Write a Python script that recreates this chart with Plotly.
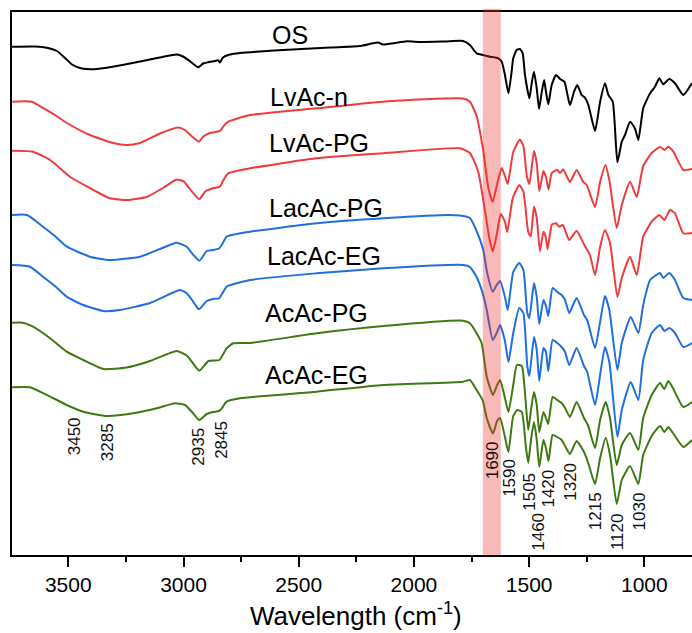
import plotly.graph_objects as go

# ---- data: wavenumber (cm-1) and offset transmittance (a.u.) ----
os_x = [3744,3645,3588,3549,3514,3484,3441,3397,3341,3254,3145,3059,3028,2998,2968,2936,2915,2894,2863,2850,
        2842,2829,2798,2755,2568,2364,2234,2156,2134,2030,1974,1865,1787,1757,1728,1699,1670,1634,1619,1605,
        1590,1576,1569,1554,1540,1528,1518,1499,1489,1479,1467,1457,1445,1435,1427,1417,1402,1383,1366,1347,
        1323,1305,1291,1272,1258,1243,1214,1192,1171,1156,1137,1117,1098,1084,1062,1041,1026,1005,975,954,
        935,918,892,867,831,793]
os_y = [508.3,508.5,507,504,497,490.5,486.5,485.7,487,490.5,495.5,499.5,500.5,498,493,487.7,491.5,492.7,494,494.7,
        492.5,497.5,500.5,502,505,507.5,509,512.5,510.5,513.7,513,513.5,514,510,501.7,500,498.3,496.7,493.3,480,
        461.7,483.3,496.7,505,506,501.7,480,456.7,471.7,483.3,466.7,446,463.3,475,463.3,450.7,470,480,476,473.3,
        450,463.3,470,460,457.3,450,424,453.3,471.7,460,453.3,392.7,413.3,420,433.3,426.7,415,446.7,461.7,468.3,
        476.7,470.7,476,471.7,460,472]

lvn_x = [3744,3658,3610,3558,3506,3406,3306,3245,3189,3102,3024,2994,2963,2933,2915,2885,2850,2837,2829,2806,
         2711,2422,2134,1787,
         1757,1728,1699,1677,1658,1641,1619,1605,1593,1569,1540,1525,1510,1499,1479,1467,1456,1438,1427,1416,
         1402,1378,1366,1352,1323,1294,1265,1250,1214,1192,1169,1152,1120,1098,1062,1033,1005,968,932,913,
         896,874,831,793]
lvn_y = [453.3,453.3,447,440,432,420,412,410,412,421.5,427.5,425,418.5,413.3,418.3,422,423.5,425,428,433.3,
         440,446.7,453.3,456.5,
         453.3,439,404,367,353,369,387,379,371,403,415.5,409,379,371,404,392,364,384,378,365.5,
         382,385,382,385.5,373,385,373,370,348,373,390,375,327,350,373.3,358,389,402,408,405,
         408.3,403.3,385,386]

lvpg_x = [3744,3653,3579,3493,3406,3319,3245,3158,3089,3030,2998,2963,2931,2907,2872,2846,2837,2829,2806,2711,
          2422,2133,1800,
          1757,1721,1691,1673,1658,1641,1623,1605,1595,1571,1543,1525,1504,1493,1479,1467,1453,1438,1429,1420,
          1401,1383,1369,1354,1326,1294,1258,1236,1214,1192,1171,1149,1117,1098,1062,1033,1005,968,935,913,
          889,867,831,793]
lvpg_y = [404.3,403.3,395,378.3,367,356.7,355,358.3,367,375.5,373.3,363.3,355.7,363.3,366.7,368,370,374,381.7,386.7,
          396.7,401.7,406.7,
          402,383.3,343.3,317,303.5,320,341,333.3,323,357,370,363.3,323,318.5,348.5,337,304,323.3,319,306,
          330.5,331.7,328.3,330,315,324,309,300,280,308,325,312,258,277,298.3,280,318.3,333.3,340,335,
          345,341.7,321.7,322]

lapg_x = [3744,3679,3610,3558,3506,3406,3319,3189,3102,3030,2986,2963,2931,2899,2871,2846,2834,2813,2711,2422,
          2133,1843,1771,
          1757,1728,1699,1682,1658,1641,1626,1605,1593,1569,1543,1525,1508,1499,1479,1467,1456,1438,1427,1417,
          1398,1378,1359,1344,1326,1294,1262,1248,1214,1192,1171,1152,1117,1098,1059,1026,1005,975,932,918,
          892,867,831,793]
lapg_y = [340,340,328.3,319,308.3,298.3,295,298.3,306,312.3,308.3,301.7,294.3,304,305,306.5,310,318.3,323.3,331.7,
          336.7,340,338.3,
          337,324,305,282,263.3,270,274,258,245,283,292,285,242,237,272,258,231,255,249,239,
          267,263,260,255,242,257,240,235,207,233,259,245,185,212,238,222,250,275,282,277,
          282,275,257,255]

laeg_x = [3744,3666,3610,3558,3507,3435,3348,3276,3145,3015,2986,2963,2933,2899,2872,2846,2833,2813,2711,2422,
          2133,1786,
          1757,1728,1702,1684,1658,1641,1626,1605,1590,1569,1543,1525,1508,1499,1479,1467,1456,1438,1427,1417,
          1398,1378,1359,1344,1326,1294,1262,1248,1214,1192,1171,1152,1117,1098,1059,1026,1005,968,932,913,
          892,867,831,793]
laeg_y = [290,288.3,278.3,269,258.3,250,244,245,252,265,261.7,255,245.7,254,256,256.5,261,268.3,275,281.7,
          286.7,290,
          288,278,262,245,215,222,230,214,193,222,247,242,189,179,218,205,174,207,203,184,
          215,212,208,203,190,207,189,183,150,180,208,193,118,145,173,155,195,222,230,224,
          227,222,208,212]

aapg_x = [3744,3697,3653,3579,3507,3435,3348,3247,3145,3030,2986,2963,2931,2892,2863,2844,2830,2813,2784,2711,
          2422,2133,1786,
          1757,1728,1706,1684,1657,1639,1626,1605,1590,1569,1553,1532,1518,1504,1492,1479,1467,1456,1438,1427,
          1417,1398,1378,1359,1344,1323,1294,1262,1245,1214,1192,1168,1149,1120,1098,1062,1026,1005,968,932,
          913,896,876,831,793]
aapg_y = [232.3,232.3,228.3,216.7,203.3,195,186,187.5,194,204,199.5,193,184.3,194,194.5,195,200,206.7,211.7,212,
          221.7,229,234.3,
          231.7,221.7,211.7,178.3,160,170,175,157,143,170,190,189,162,125,145,163,150,123,143,137,
          131,158,155,152,147,138,153,137,130,107,135,153,137,90,110,122,105,137,160,172,
          166,174,167,148,153]

aaeg_x = [3744,3666,3608,3558,3507,3435,3333,3218,3116,3037,2994,2964,2931,2899,2872,2846,2834,2813,2755,2422,
          2133,1786,
          1757,1728,1702,1684,1657,1639,1626,1605,1590,1569,1551,1532,1514,1504,1492,1479,1467,1456,1438,1427,
          1416,1398,1378,1359,1344,1323,1294,1262,1245,1214,1192,1168,1149,1120,1098,1062,1026,1005,968,932,
          913,896,876,831,793]
aaeg_y = [167.7,167.7,161.7,156,150,143.3,139,141.7,146.7,151.7,150,143.3,135,141,143,144,146.7,153.3,156.7,163.3,
          170,173.3,
          175,165,155,137,121.5,134,137,118,103,139,145,143,108,92,115,133,115,88,115,107,
          94,120,118,115,109,101,114,103,93,71,97,117,100,51,75,89,71,100,119,129,
          123,128,122,108,115]

names = ["OS", "LvAc-n", "LvAc-PG", "LacAc-PG", "LacAc-EG", "AcAc-PG", "AcAc-EG"]
xs = [os_x, lvn_x, lvpg_x, lapg_x, laeg_x, aapg_x, aaeg_x]
ys = [os_y, lvn_y, lvpg_y, lapg_y, laeg_y, aapg_y, aaeg_y]
colors = ["#000000", "#ef3b3b", "#ef3b3b", "#1f6fde", "#1f6fde", "#3d7a12", "#3d7a12"]

# label positions (wavenumber of left edge, y)
label_x = [2625, 2632, 2639, 2639, 2646, 2654, 2654]
label_y = [520, 458.5, 412.5, 347.5, 299, 242.5, 180]

peak_text = ["3450", "3285", "2935", "2845", "1690", "1590", "1505", "1460", "1420", "1320", "1215", "1120", "1030"]
peak_x = [3474, 3330, 2933, 2838, 1659, 1585, 1496, 1457, 1417, 1318, 1212, 1117, 1020]
peak_y = [119, 113.3, 108.3, 115, 94.2, 76.7, 63.3, 23.3, 66.7, 73.3, 43.3, 23.3, 43.3]

band = [1701, 1623]
x_range = [3744.3, 793.2]
y_range = [0, 543]
major_ticks = [3500, 3000, 2500, 2000, 1500, 1000]
minor_ticks = [3250, 2750, 2250, 1750, 1250]

FONT = "Arial, 'Liberation Sans', sans-serif"

fig = go.Figure()
for x, y, c, n in zip(xs, ys, colors, names):
    fig.add_trace(go.Scatter(x=x, y=y, mode="lines", name=n,
                             line=dict(color=c, width=2, shape="spline", smoothing=0.5),
                             showlegend=False, hoverinfo="skip"))

fig.add_shape(type="rect", xref="x", yref="paper", x0=band[0], x1=band[1], y0=0, y1=1.006,
              fillcolor="rgba(240,50,50,0.34)", line=dict(width=0), layer="above")

for t, lx, ly in zip(names, label_x, label_y):
    fig.add_annotation(x=lx, y=ly, text=t, showarrow=False, xanchor="left", yanchor="middle",
                       font=dict(family=FONT, size=25, color="#000"))

for t, px_, py_ in zip(peak_text, peak_x, peak_y):
    fig.add_annotation(x=px_, y=py_, text=t, showarrow=False, textangle=-90,
                       xanchor="center", yanchor="middle",
                       font=dict(family=FONT, size=17, color="#111"))

fig.add_annotation(xref="paper", yref="paper", x=0.5066, y=-0.110, text="Wavelength (cm<sup>-1</sup>)",
                   showarrow=False, xanchor="center", yanchor="middle",
                   font=dict(family=FONT, size=26, color="#000"))

fig.update_layout(
    width=692, height=633,
    margin=dict(l=12, r=0, t=12, b=78),
    paper_bgcolor="white", plot_bgcolor="white",
    font=dict(family=FONT, color="#000"),
)
fig.update_xaxes(range=x_range, showgrid=False, zeroline=False,
                 showline=True, linewidth=2, linecolor="#000", mirror=True,
                 tickmode="array", tickvals=major_ticks, ticks="outside", ticklen=10, tickwidth=2,
                 tickcolor="#000", tickfont=dict(family=FONT, size=21, color="#000"),
                 minor=dict(tickmode="array", tickvals=minor_ticks, ticks="outside", ticklen=5,
                            tickwidth=2, tickcolor="#000"))
fig.update_yaxes(range=y_range, showgrid=False, zeroline=False, showticklabels=False,
                 showline=True, linewidth=2, linecolor="#000", mirror=False, ticks="")

fig.write_html("out.html", config={"displayModeBar": False},
               post_script="document.body.style.margin='0';document.body.style.padding='0';")
